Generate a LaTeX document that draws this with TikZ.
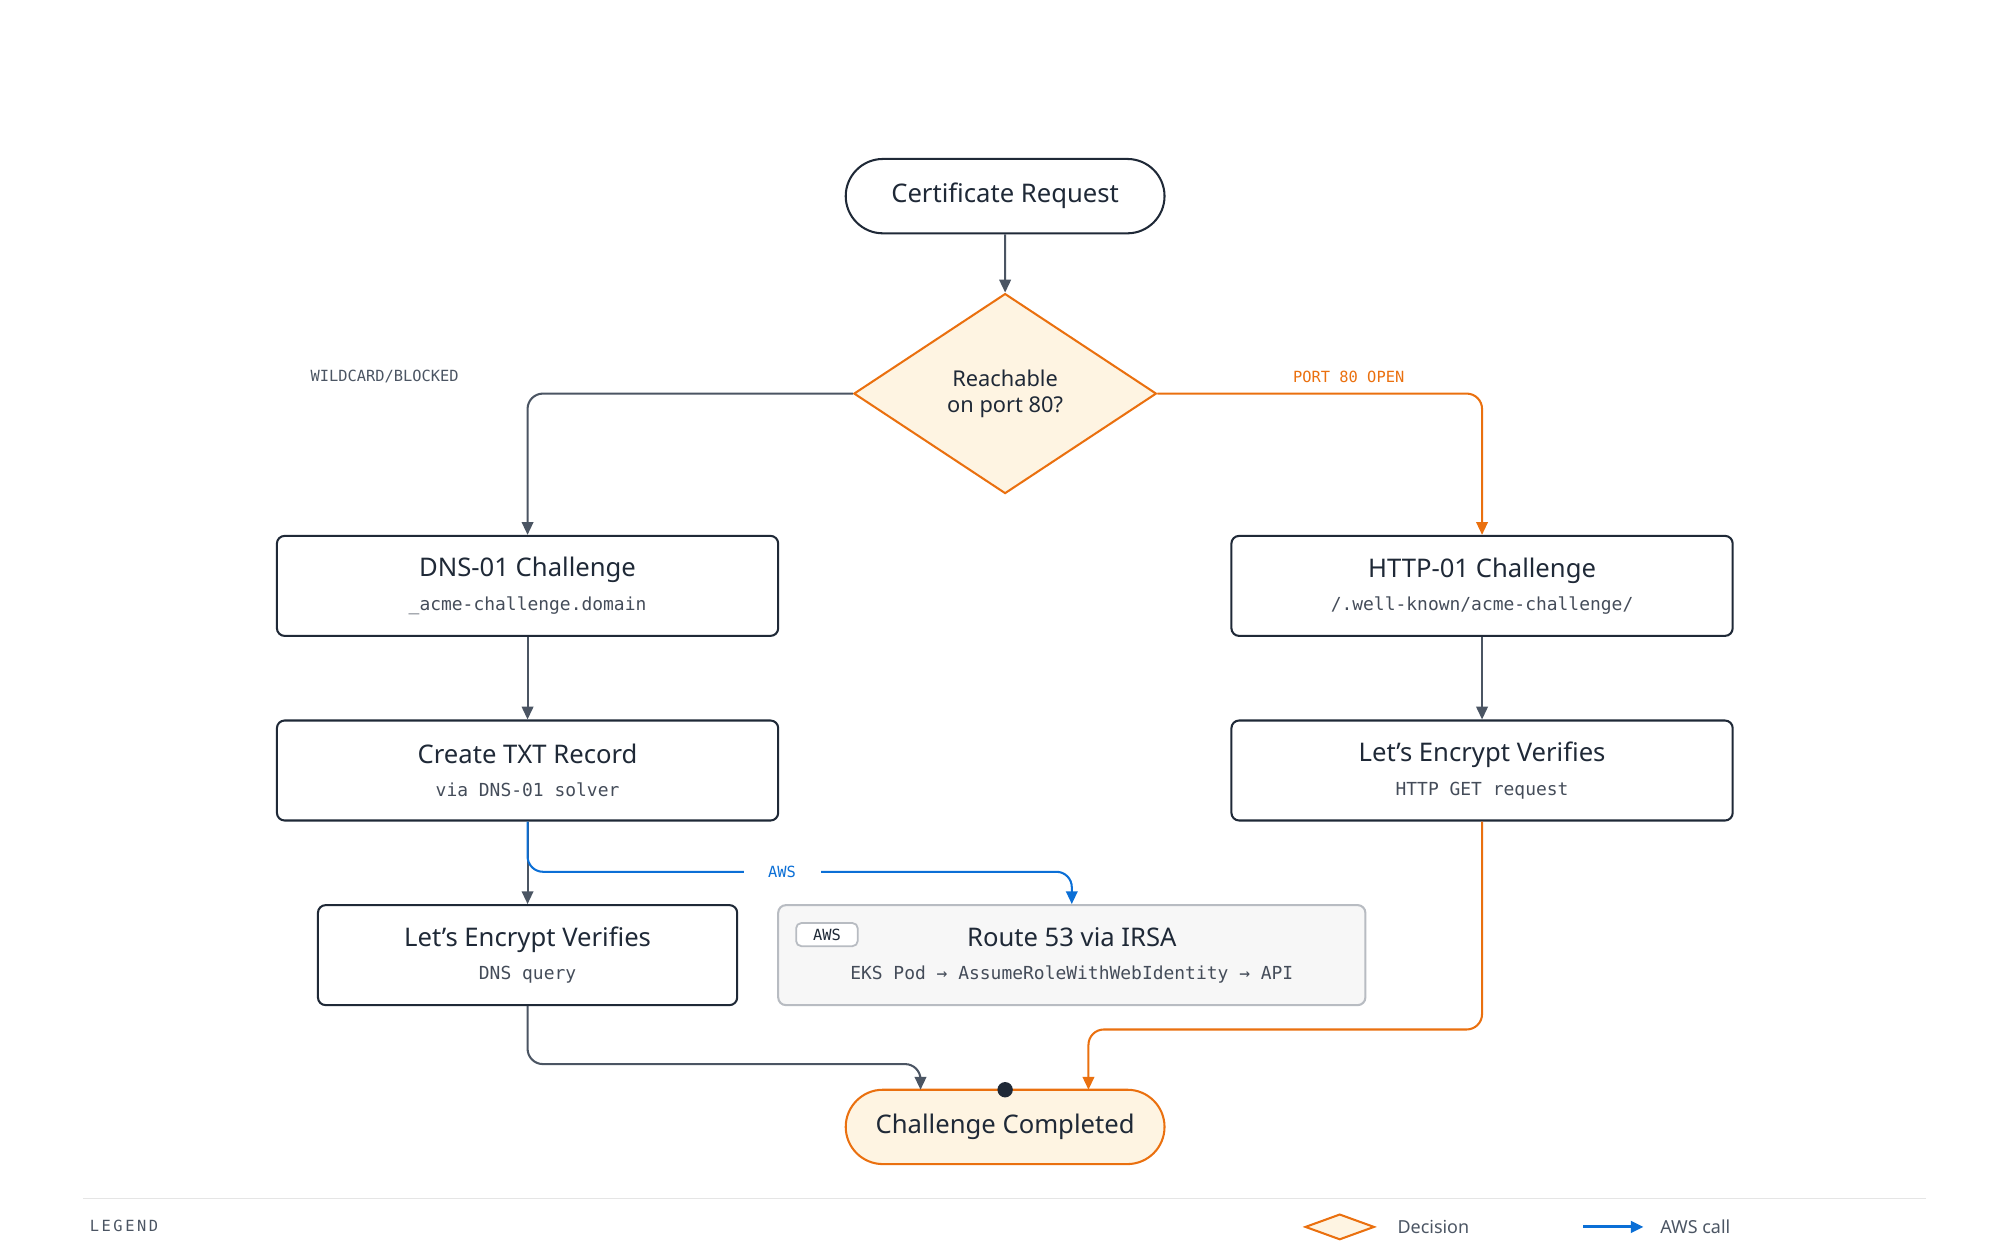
\documentclass[tikz,border=0pt]{standalone}
\usepackage{fontspec}
\setmainfont{Noto Sans}
\setmonofont{DejaVu Sans Mono}
\usetikzlibrary{shapes.geometric, shapes.misc, arrows.meta, positioning}
\definecolor{ink}{HTML}{1F2937}
\definecolor{wire}{HTML}{4B5563}
\definecolor{amber}{HTML}{EA700F}
\definecolor{cream}{HTML}{FEF4E2}
\definecolor{awsblue}{HTML}{0B6FD6}
\definecolor{paleg}{HTML}{F7F7F7}
\definecolor{rimg}{HTML}{B8BCC2}
\newcommand{\boxtext}[2]{{\bfseries\fontsize{10}{12}\selectfont #1}\\[1pt]{\ttfamily\fontsize{7}{9}\selectfont\color{wire!90!black} #2}}

\begin{document}
\begin{tikzpicture}
  [
    x=0.5pt, y=-0.5pt,
    Term/.style={rounded rectangle, draw=ink, line width=0.8pt, minimum width=131pt, minimum height=29pt, font=\bfseries\fontsize{10}{12}\selectfont, text=ink},
    Done/.style={Term, draw=amber, fill=cream},
    Choice/.style={diamond, draw=amber, fill=cream, line width=0.8pt, minimum width=118pt, minimum height=78pt, aspect=1.5, inner sep=0pt, align=center, font=\bfseries\fontsize{8.5}{10}\selectfont, text=ink},
    Stepbox/.style={rectangle, rounded corners=3pt, draw=ink, line width=0.8pt, minimum width=195.5pt, minimum height=39pt, align=center, text=ink},
    AwsBox/.style={Stepbox, draw=rimg, fill=paleg, minimum width=229pt},
    Flow/.style={draw=wire, line width=0.8pt, rounded corners=6pt, -{Triangle[length=5pt,width=4.5pt]}},
    OrangeFlow/.style={Flow, draw=amber, -{Triangle[length=5pt,width=4.5pt,fill=amber]}},
    BlueFlow/.style={Flow, draw=awsblue, -{Triangle[length=5pt,width=4.5pt,fill=awsblue]}},
    Tag/.style={font=\ttfamily\fontsize{6}{7}\selectfont}
  ]
  \useasboundingbox (0,0) rectangle (1560,977);
  % Nodes
  \node[Term] (req) at (784,153) {Certificate Request};
  \node[Choice] (reach) at (784,307) {Reachable\\on port 80?};
  \node[Stepbox] (dns) at (411.5,457) {\boxtext{DNS-01 Challenge}{\_acme-challenge.domain}};
  \node[Stepbox] (http) at (1156,457) {\boxtext{HTTP-01 Challenge}{/.well-known/acme-challenge/}};
  \node[Stepbox] (txt) at (411.5,601) {\boxtext{Create TXT Record}{via DNS-01 solver}};
  \node[Stepbox] (lehttp) at (1156,601) {\boxtext{Let's Encrypt Verifies}{HTTP GET request}};
  \node[Stepbox, minimum width=163.5pt] (ledns) at (411.5,745) {\boxtext{Let's Encrypt Verifies}{DNS query}};
  \node[AwsBox] (r53) at (836,745) {\boxtext{Route 53 via IRSA}{EKS Pod \char"2192{} AssumeRoleWithWebIdentity \char"2192{} API}};
  \node[rectangle, rounded corners=2pt, draw=rimg, fill=white, line width=0.7pt, minimum width=24pt, minimum height=9pt, inner sep=0pt, Tag, text=ink] (awstag) at (645,729) {AWS};
  \node[Done] (done) at (784,879) {Challenge Completed};
  \fill[ink] (784,850) circle (3pt);
  % Lines
  \draw[Flow] (req) -- (reach);
  \draw[Flow] (reach.west) -| (dns.north);
  \draw[OrangeFlow] (reach.east) -| (http.north);
  \draw[Flow] (dns) -- (txt);
  \draw[Flow] (http) -- (lehttp);
  \draw[Flow] (txt) -- (ledns);
  \draw[BlueFlow] (txt.south) |- (500,680) -- (836,680) -- (r53.north);
  \draw[Flow] (ledns.south) |- (718,830) -- (718,850);
  \draw[OrangeFlow] (lehttp.south) |- (849,803) -- (849,850);
  % Labels
  \node[Tag, text=wire] (wild) at (300,294) {WILDCARD/BLOCKED};
  \node[Tag, text=amber] (port) at (1052,294) {PORT 80 OPEN};
  \node[Tag, text=awsblue, fill=white, minimum width=30pt] (awsl) at (610,680) {AWS};
  % Legend
  \draw[draw=black!10, line width=0.6pt] (65,935) -- (1502,935);
  \node[font=\ttfamily\fontsize{6}{7}\selectfont, text=wire, anchor=west] (leg) at (63,956) {L\,E\,G\,E\,N\,D};
  \node[diamond, draw=amber, fill=cream, line width=0.8pt, minimum width=27pt, minimum height=10pt, aspect=2.7, inner sep=0pt] (legd) at (1045,957) {};
  \node[font=\fontsize{7}{8}\selectfont, text=wire, anchor=west] (legdt) at (1083,957) {Decision};
  \coordinate (lega) at (1235,957);
  \coordinate (legb) at (1282,957);
  \draw[BlueFlow, line width=1.2pt] (lega) -- (legb);
  \node[font=\fontsize{7}{8}\selectfont, text=wire, anchor=west] (legat) at (1288,957) {AWS call};
\end{tikzpicture}
\end{document}
